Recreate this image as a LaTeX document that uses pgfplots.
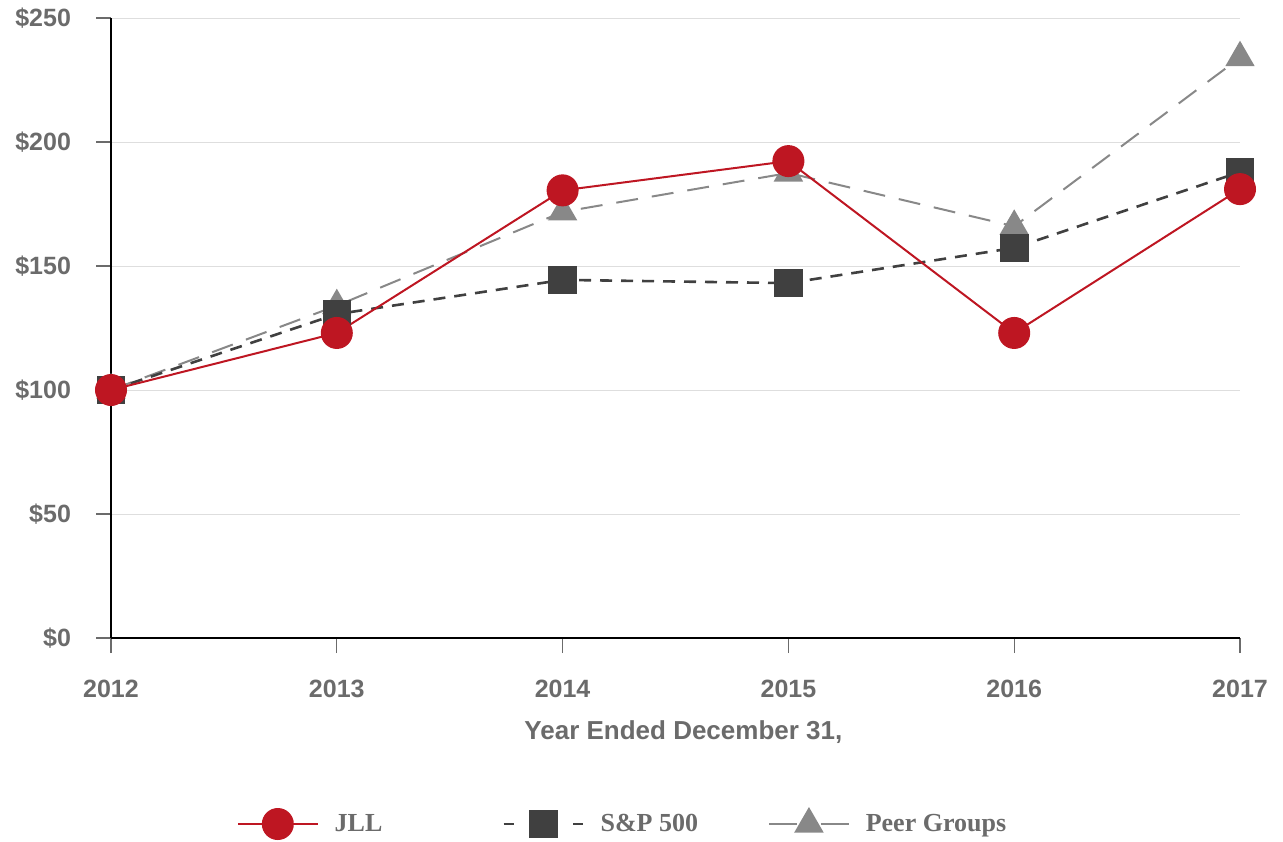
\documentclass[border=0pt]{standalone}
\usepackage{fontspec}
\setmainfont{Liberation Sans}
\newfontfamily\legfont{Liberation Serif}
\usepackage{pgfplots}
\pgfplotsset{compat=1.18}
\definecolor{jllred}{HTML}{BE1622}
\definecolor{spgray}{HTML}{404040}
\definecolor{peergray}{HTML}{888888}
\definecolor{txtgray}{HTML}{6B6B6B}
\begin{document}
\begin{tikzpicture}
\useasboundingbox (-55.5pt,-101.5pt) rectangle (586pt,319pt);
\begin{axis}[
  scale only axis,
  width=564.5pt, height=310pt,
  at={(0pt,0pt)}, anchor=south west,
  xmin=2012, xmax=2017, ymin=0, ymax=250,
  xtick={2012,2013,2014,2015,2016,2017},
  xticklabels={2012,2013,2014,2015,2016,2017},
  ytick={0,50,100,150,200,250},
  yticklabels={\$0,\$50,\$100,\$150,\$200,\$250},
  axis x line*=bottom, axis y line*=left,
  axis line style={black, line width=1.2pt, -},
  tick align=outside, major tick length=7.5pt,
  tick style={txtgray, line width=0.6pt},
  ymajorgrids, grid style={draw=black!13, line width=0.5pt},
  ticklabel style={font=\fontsize{12.5}{14}\selectfont\bfseries, text=txtgray},
  yticklabel style={xshift=-9pt},
  xticklabel style={yshift=-10pt},
  xlabel={Year Ended December 31,},
  xlabel style={at={(axis description cs:0.507,0)}, anchor=center, yshift=-47pt, font=\fontsize{13}{15}\selectfont\bfseries, text=txtgray},
  clip=false,
  legend columns=3,
  legend style={at={(axis description cs:0.454,-0.3)}, anchor=center, draw=none, fill=none,
    font=\legfont\fontsize{13}{15}\selectfont\bfseries, text=txtgray,
    /tikz/every odd column/.append style={column sep=6pt},
    /tikz/every even column/.append style={column sep=33pt}},
  legend image code/.code={\draw[mark repeat=2,mark phase=2] plot coordinates {(0cm,0cm)(0.7cm,0cm)(1.4cm,0cm)};},
]
\addlegendimage{jllred, line width=1pt, mark=*, mark size=7.5pt, mark options={solid, fill=jllred, draw=jllred}}
\addlegendentry{JLL\hspace*{25pt}}
\addlegendimage{spgray, line width=1.3pt, dash pattern=on 5pt off 29.7pt, mark=square*, mark size=6.5pt, mark options={solid, fill=spgray, draw=spgray}}
\addlegendentry{S\&P 500}
\addlegendimage{peergray, line width=1pt, dash pattern=on 14pt off 11.7pt, mark=triangle*, mark size=7.5pt, mark options={solid, fill=peergray, draw=peergray}}
\addlegendentry{Peer Groups}
\addplot[forget plot, peergray, line width=1pt, dash pattern=on 11pt off 7pt, mark=triangle*, mark size=7.5pt, mark options={solid, fill=peergray, draw=peergray}]
  coordinates {(2012,100)(2013,134)(2014,171.8)(2015,187.5)(2016,166)(2017,234)};
\addplot[forget plot, spgray, line width=1.3pt, dash pattern=on 6pt off 4.5pt, mark=square*, mark size=6.5pt, mark options={solid, fill=spgray, draw=spgray}]
  coordinates {(2012,100)(2013,130.6)(2014,144.4)(2015,143.1)(2016,157.3)(2017,187.9)};
\addplot[forget plot, jllred, line width=1pt, mark=*, mark size=7.5pt, mark options={solid, fill=jllred, draw=jllred}]
  coordinates {(2012,100)(2013,123)(2014,180.5)(2015,192.3)(2016,123)(2017,181)};
\end{axis}
\end{tikzpicture}
\end{document}
